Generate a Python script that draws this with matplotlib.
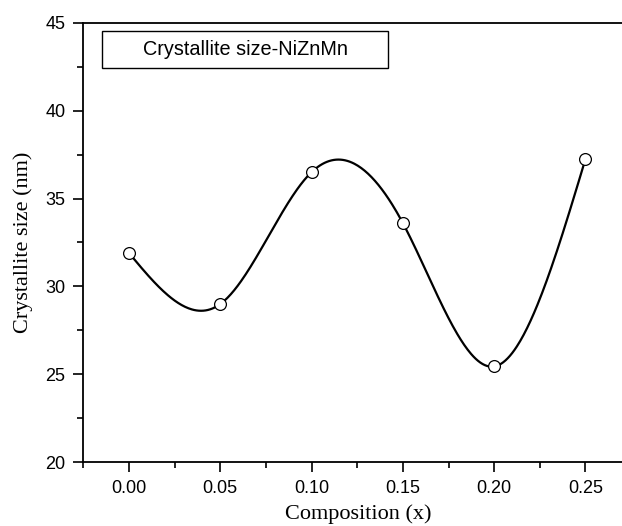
import numpy as np
import matplotlib
matplotlib.use("Agg")
import matplotlib.pyplot as plt
from matplotlib.ticker import MultipleLocator
from matplotlib.patches import Rectangle

composition = [0.00, 0.05, 0.10, 0.15, 0.20, 0.25]
crystallite_size = [31.9, 29.0, 36.5, 33.6, 25.45, 37.25]
legend_text = "Crystallite size-NiZnMn"


def natural_cubic_spline(x, y, xs):
    x = np.asarray(x, float)
    y = np.asarray(y, float)
    n = len(x)
    h = np.diff(x)
    A = np.zeros((n, n))
    b = np.zeros(n)
    A[0, 0] = 1
    A[-1, -1] = 1
    for i in range(1, n - 1):
        A[i, i - 1] = h[i - 1]
        A[i, i] = 2 * (h[i - 1] + h[i])
        A[i, i + 1] = h[i]
        b[i] = 3 * ((y[i + 1] - y[i]) / h[i] - (y[i] - y[i - 1]) / h[i - 1])
    c = np.linalg.solve(A, b)
    bb = np.zeros(n - 1)
    d = np.zeros(n - 1)
    for i in range(n - 1):
        bb[i] = (y[i + 1] - y[i]) / h[i] - h[i] * (2 * c[i] + c[i + 1]) / 3
        d[i] = (c[i + 1] - c[i]) / (3 * h[i])
    idx = np.clip(np.searchsorted(x, xs) - 1, 0, n - 2)
    dx = xs - x[idx]
    return y[idx] + bb[idx] * dx + c[idx] * dx ** 2 + d[idx] * dx ** 3


fig = plt.figure(figsize=(6.22, 5.26), dpi=100)
ax = fig.add_axes([0.134, 0.121, 0.866, 0.836])

xs = np.linspace(composition[0], composition[-1], 400)
ax.plot(xs, natural_cubic_spline(composition, crystallite_size, xs), color="black", lw=1.6, zorder=2)
ax.plot(composition, crystallite_size, "o", ms=8.5, mfc="white", mec="black", mew=0.9, zorder=3)

ax.set_xlim(-0.025, 0.27)
ax.set_ylim(20, 45)
ax.xaxis.set_major_locator(MultipleLocator(0.05))
ax.xaxis.set_minor_locator(MultipleLocator(0.025))
ax.yaxis.set_major_locator(MultipleLocator(5))
ax.yaxis.set_minor_locator(MultipleLocator(2.5))
ax.set_xticks([0.0, 0.05, 0.10, 0.15, 0.20, 0.25])
ax.set_xticklabels(["0.00", "0.05", "0.10", "0.15", "0.20", "0.25"])
ax.spines["right"].set_visible(False)
for s in ["left", "bottom", "top"]:
    ax.spines[s].set_linewidth(1.3)
ax.tick_params(which="both", direction="out", width=1.2, top=False, right=False)
ax.tick_params(which="major", length=7, labelsize=13, pad=6)
ax.tick_params(which="minor", length=4)
for lab in ax.get_xticklabels() + ax.get_yticklabels():
    lab.set_family("Liberation Sans")

ax.set_xlabel("Composition (x)", family="Liberation Serif", fontsize=16)
ax.set_ylabel("Crystallite size (nm)", family="Liberation Serif", fontsize=16)
ax.xaxis.label.set_va("center")
ax.yaxis.label.set_va("center")
ax.xaxis.set_label_coords(0.51, -0.118)
ax.yaxis.set_label_coords(-0.112, 0.5)

ax.add_patch(Rectangle((0.034, 0.896), 0.532, 0.085, transform=ax.transAxes,
                       fc="white", ec="black", lw=1.0, zorder=4))
ax.text(0.110, 0.9385, legend_text, transform=ax.transAxes, family="Liberation Sans",
        fontsize=14.3, va="center", ha="left", zorder=5)

fig.savefig("out.png", dpi=100)
